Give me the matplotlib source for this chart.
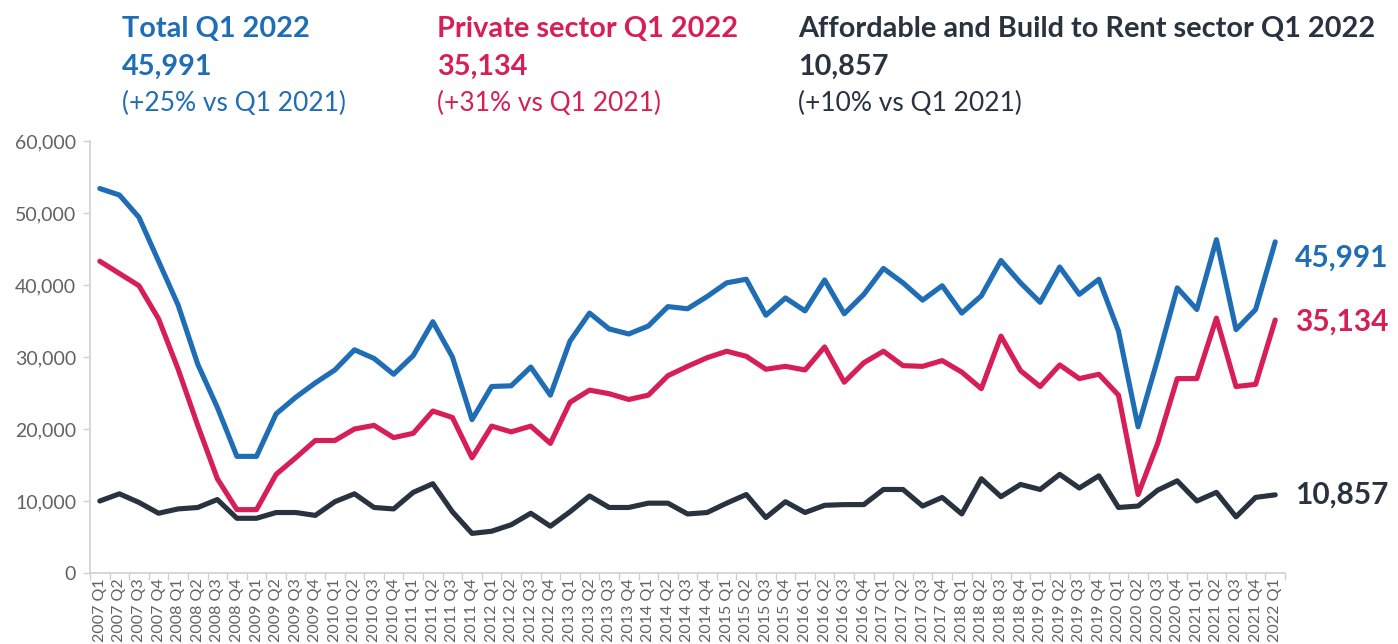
import matplotlib
matplotlib.use("Agg")
import matplotlib.pyplot as plt
from matplotlib.ticker import FuncFormatter, FixedLocator
import numpy as np

# ---------------- data ----------------
quarters = [f"{y} Q{q}" for y in range(2007, 2022) for q in range(1, 5)] + ["2022 Q1"]

total = [53.4, 52.5, 49.4, 43.3, 37.2, 29.0, 23.0, 16.2, 16.2, 22.1,
         24.4, 26.4, 28.2, 31.0, 29.8, 27.6, 30.2, 34.9, 30.0, 21.3,
         25.9, 26.0, 28.6, 24.7, 32.2, 36.1, 33.9, 33.2, 34.3, 37.0,
         36.7, 38.4, 40.3, 40.8, 35.8, 38.2, 36.4, 40.7, 36.0, 38.7,
         42.3, 40.3, 37.9, 39.9, 36.1, 38.5, 43.4, 40.3, 37.6, 42.5,
         38.7, 40.8, 33.6, 20.3, 29.7, 39.6, 36.6, 46.3, 33.8, 36.6,
         45.991]
private = [43.3, 41.6, 39.9, 35.3, 28.3, 20.5, 13.1, 8.8, 8.8, 13.7,
           16.0, 18.4, 18.4, 20.0, 20.5, 18.8, 19.4, 22.5, 21.6, 16.0,
           20.4, 19.6, 20.4, 18.0, 23.7, 25.4, 24.9, 24.1, 24.7, 27.4,
           28.7, 29.9, 30.8, 30.1, 28.3, 28.7, 28.2, 31.4, 26.5, 29.2,
           30.8, 28.8, 28.7, 29.5, 27.9, 25.6, 32.9, 28.1, 25.9, 28.9,
           27.0, 27.6, 24.7, 10.9, 18.0, 27.0, 27.0, 35.4, 25.9, 26.2,
           35.134]
affordable = [10.0, 11.0, 9.8, 8.3, 8.9, 9.1, 10.2, 7.6, 7.6, 8.4,
              8.4, 8.0, 9.9, 11.0, 9.1, 8.9, 11.2, 12.4, 8.5, 5.5,
              5.8, 6.7, 8.3, 6.5, 8.5, 10.7, 9.1, 9.1, 9.7, 9.7,
              8.2, 8.4, 9.7, 10.9, 7.7, 9.9, 8.4, 9.4, 9.5, 9.5,
              11.6, 11.6, 9.3, 10.5, 8.2, 13.1, 10.6, 12.3, 11.6, 13.7,
              11.8, 13.5, 9.1, 9.3, 11.5, 12.8, 10.0, 11.2, 7.8, 10.5,
              10.857]
total = [v * 1000 for v in total]
private = [v * 1000 for v in private]
affordable = [v * 1000 for v in affordable]

end_labels = ["45,991", "35,134", "10,857"]
header_titles = ["Total Q1 2022", "Private sector Q1 2022",
                 "Affordable and Build to Rent sector Q1 2022"]
header_values = ["45,991", "35,134", "10,857"]
header_changes = ["(+25% vs Q1 2021)", "(+31% vs Q1 2021)", "(+10% vs Q1 2021)"]
yticks = [0, 10000, 20000, 30000, 40000, 50000, 60000]

# ---------------- style ----------------
BLUE = "#1F6DB5"
RED = "#D61F57"
DARK = "#28333F"
GREY = "#626262"
AXIS = "#D0D0D0"
FONT = ["Lato", "DejaVu Sans"]
plt.rcParams["font.family"] = FONT

W, H = 1398, 644
fig = plt.figure(figsize=(W / 100, H / 100), dpi=100)
ax = fig.add_axes([90 / W, 1 - 573 / H, (1285 - 90) / W, (573 - 141) / H])

x = np.arange(len(quarters))
series = [(total, BLUE), (private, RED), (affordable, DARK)]
for vals, col in series:
    ax.plot(x, vals, color=col, lw=3.7, solid_joinstyle="round", solid_capstyle="round", zorder=3)

ax.set_xlim(-0.5, len(quarters) - 0.5)
ax.set_ylim(0, 60000)
ax.set_yticks(yticks)
ax.yaxis.set_major_formatter(FuncFormatter(lambda v, p: f"{int(v):,}"))
ax.set_xticks(x)
ax.set_xticklabels(quarters, rotation=90, fontsize=11.5, color=GREY)
ax.xaxis.set_minor_locator(FixedLocator(np.arange(-0.5, len(quarters), 1.0)))
ax.tick_params(axis="x", which="major", length=0, pad=4)
ax.tick_params(axis="x", which="minor", length=5, color=AXIS, width=1)
ax.tick_params(axis="y", length=5, color=AXIS, width=1, labelsize=14, labelcolor=GREY, pad=5)
for s in ["top", "right"]:
    ax.spines[s].set_visible(False)
for s in ["left", "bottom"]:
    ax.spines[s].set_color(AXIS)
    ax.spines[s].set_linewidth(1.2)

# end labels
offsets = [-11, -1, 0]
for (vals, col), lab, dy in zip(series, end_labels, offsets):
    ax.annotate(lab, xy=(x[-1], vals[-1]), xytext=(14, dy), textcoords="offset points",
                ha="left", va="center", color=col, fontsize=21.5, fontweight="bold",
                annotation_clip=False)

# header
hx = [122, 437, 798]
hcols = [BLUE, RED, DARK]
for xi, col, t, v, c in zip(hx, hcols, header_titles, header_values, header_changes):
    fig.text(xi / W, 1 - 37 / H, t, color=col, fontsize=20.8, fontweight="bold", va="baseline", ha="left")
    fig.text(xi / W, 1 - 75 / H, v, color=col, fontsize=20.8, fontweight="bold", va="baseline", ha="left")
    fig.text(xi / W, 1 - 111 / H, c, color=col, fontsize=19, fontweight="normal", va="baseline", ha="left")

fig.savefig("out.png", dpi=100, facecolor="white")
